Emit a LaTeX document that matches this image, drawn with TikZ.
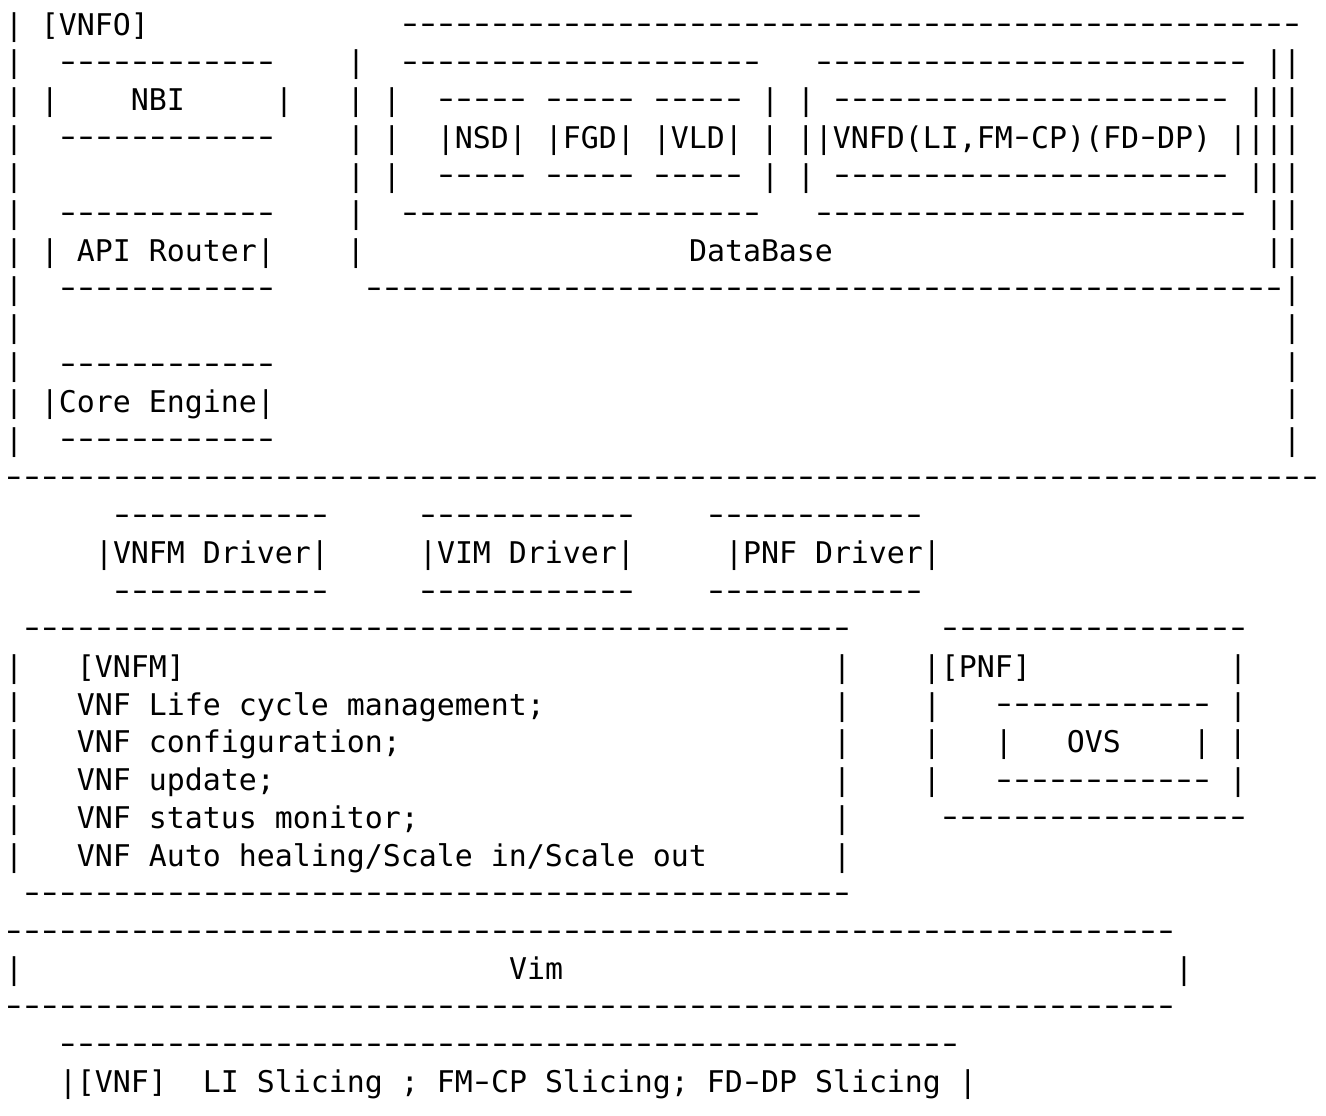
\documentclass[tikz,border=0pt]{standalone}
\usepackage{fontspec}
\setmonofont{DejaVu Sans Mono}
\usepackage{graphicx}
\newdimen\chw \chw=9pt
\newcommand\sk[1]{\hskip#1\chw\relax}
\newcommand\hy{\makebox[\chw]{\raisebox{0.8pt}{\scalebox{1.5}[1]{-}}}}
\ExplSyntaxOn
\cs_new_protected:Npn \dr #1 { \prg_replicate:nn {#1} { \hy } }
\ExplSyntaxOff
\tikzset{asciirow/.style={anchor=base west, inner sep=0pt, outer sep=0pt,
  font=\ttfamily\fontsize{14.949pt}{18pt}\selectfont}}
\begin{document}
\begin{tikzpicture}[x=0.5pt,y=-0.5pt]
\fill[white] (0,0) rectangle (1326,1115);
\useasboundingbox (0,0) rectangle (1326,1115);
\node[asciirow] (r0)  at (5,{35+37.78*0})  {| [VNFO]\sk{14}\dr{50}};
\node[asciirow] (r1)  at (5,{35+37.78*1})  {|\sk{2}\dr{12}\sk{4}|\sk{2}\dr{20}\sk{3}\dr{24}\sk{1}||};
\node[asciirow] (r2)  at (5,{35+37.78*2})  {|\sk{1}|\sk{4}NBI\sk{5}|\sk{3}|\sk{1}|\sk{2}\dr{5}\sk{1}\dr{5}\sk{1}\dr{5}\sk{1}|\sk{1}|\sk{1}\dr{22}\sk{1}|||};
\node[asciirow] (r3)  at (5,{35+37.78*3})  {|\sk{2}\dr{12}\sk{4}|\sk{1}|\sk{2}|NSD|\sk{1}|FGD|\sk{1}|VLD|\sk{1}|\sk{1}||VNFD(LI,FM\hy CP)(FD\hy DP)\sk{1}||||};
\node[asciirow] (r4)  at (5,{35+37.78*4})  {|\sk{18}|\sk{1}|\sk{2}\dr{5}\sk{1}\dr{5}\sk{1}\dr{5}\sk{1}|\sk{1}|\sk{1}\dr{22}\sk{1}|||};
\node[asciirow] (r5)  at (5,{35+37.78*5})  {|\sk{2}\dr{12}\sk{4}|\sk{2}\dr{20}\sk{3}\dr{24}\sk{1}||};
\node[asciirow] (r6)  at (5,{35+37.78*6})  {|\sk{1}|\sk{1}API Router|\sk{4}|\sk{18}DataBase\sk{24}||};
\node[asciirow] (r7)  at (5,{35+37.78*7})  {|\sk{2}\dr{12}\sk{5}\dr{51}|};
\node[asciirow] (r8)  at (5,{35+37.78*8})  {|\sk{70}|};
\node[asciirow] (r9)  at (5,{35+37.78*9})  {|\sk{2}\dr{12}\sk{56}|};
\node[asciirow] (r10) at (5,{35+37.78*10}) {|\sk{1}|Core Engine|\sk{56}|};
\node[asciirow] (r11) at (5,{35+37.78*11}) {|\sk{2}\dr{12}\sk{56}|};
\node[asciirow] (r12) at (5,{35+37.78*12}) {\dr{73}};
\node[asciirow] (r13) at (5,{35+37.78*13}) {\sk{6}\dr{12}\sk{5}\dr{12}\sk{4}\dr{12}};
\node[asciirow] (r14) at (5,{35+37.78*14}) {\sk{5}|VNFM Driver|\sk{5}|VIM Driver|\sk{5}|PNF Driver|};
\node[asciirow] (r15) at (5,{35+37.78*15}) {\sk{6}\dr{12}\sk{5}\dr{12}\sk{4}\dr{12}};
\node[asciirow] (r16) at (5,{35+37.78*16}) {\sk{1}\dr{46}\sk{5}\dr{17}};
\node[asciirow] (r17) at (5,{35+37.78*17}) {|\sk{3}[VNFM]\sk{36}|\sk{4}|[PNF]\sk{11}|};
\node[asciirow] (r18) at (5,{35+37.78*18}) {|\sk{3}VNF Life cycle management;\sk{16}|\sk{4}|\sk{3}\dr{12}\sk{1}|};
\node[asciirow] (r19) at (5,{35+37.78*19}) {|\sk{3}VNF configuration;\sk{24}|\sk{4}|\sk{3}|\sk{3}OVS\sk{4}|\sk{1}|};
\node[asciirow] (r20) at (5,{35+37.78*20}) {|\sk{3}VNF update;\sk{31}|\sk{4}|\sk{3}\dr{12}\sk{1}|};
\node[asciirow] (r21) at (5,{35+37.78*21}) {|\sk{3}VNF status monitor;\sk{23}|\sk{5}\dr{17}};
\node[asciirow] (r22) at (5,{35+37.78*22}) {|\sk{3}VNF Auto healing/Scale in/Scale out\sk{7}|};
\node[asciirow] (r23) at (5,{35+37.78*23}) {\sk{1}\dr{46}};
\node[asciirow] (r24) at (5,{35+37.78*24}) {\dr{65}};
\node[asciirow] (r25) at (5,{35+37.78*25}) {|\sk{27}Vim\sk{34}|};
\node[asciirow] (r26) at (5,{35+37.78*26}) {\dr{65}};
\node[asciirow] (r27) at (5,{35+37.78*27}) {\sk{3}\dr{50}};
\node[asciirow] (r28) at (5,{35+37.78*28}) {\sk{3}|[VNF]\sk{2}LI Slicing ; FM\hy CP Slicing; FD\hy DP Slicing\sk{1}|};
\end{tikzpicture}
\end{document}
